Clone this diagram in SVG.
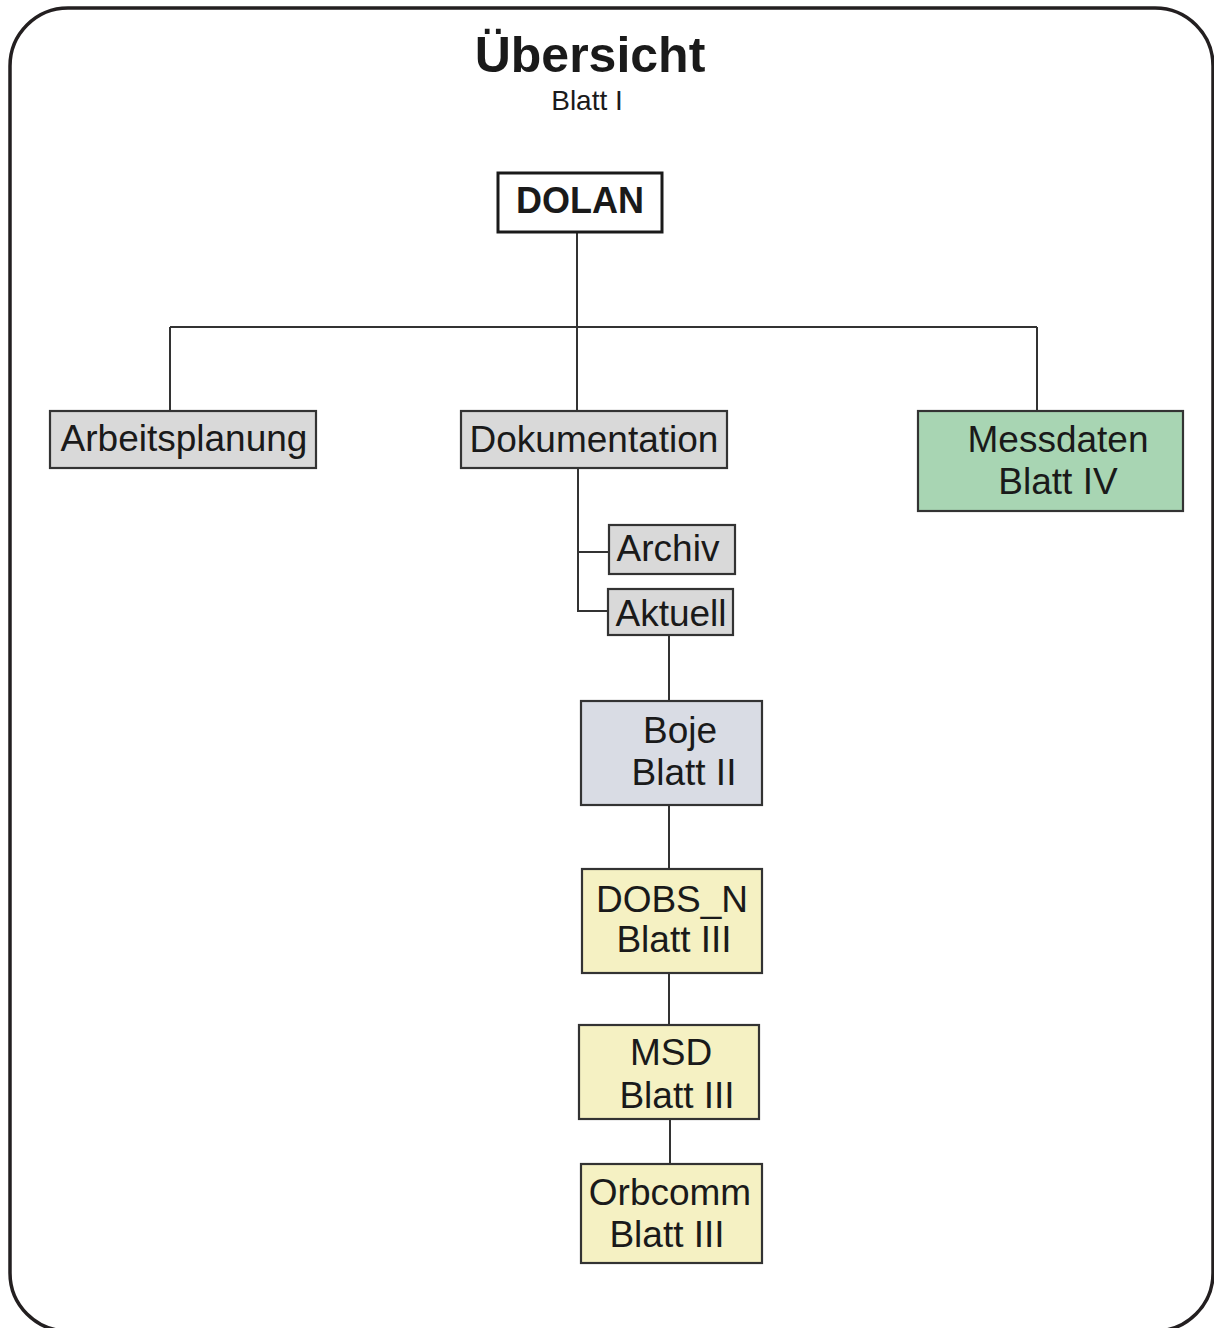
<svg xmlns="http://www.w3.org/2000/svg" width="1214" height="1328" viewBox="0 0 1214 1328">
<style>
text{font-family:"Liberation Sans",Arial,sans-serif;fill:#1a1a1a;text-anchor:middle}
.lbl{font-size:37px}
.box{stroke:#333;stroke-width:2.2}
.grey{fill:#d9d9d9}
.blue{fill:#d9dce4}
.yellow{fill:#f5f1c3}
.green{fill:#a8d5b3}
.conn{stroke:#333;stroke-width:2;fill:none}
</style>
<rect x="10" y="8" width="1203" height="1323" rx="58" ry="58" fill="#fff" stroke="#231f20" stroke-width="3.5"/>
<g id="title">
<text x="590" y="72" font-size="50" font-weight="bold">Übersicht</text>
<text x="587" y="110" font-size="28">Blatt I</text>
</g>
<g id="connectors">
<path class="conn" d="M577 233V410M170 327H1037M170 327V411M1037 327V411"/>
<path class="conn" d="M578 468V611H608M578 552H609"/>
<path class="conn" d="M669 635V701M669 805V869M669 973V1025M670 1119V1164"/>
</g>
<g id="dolan">
<rect x="498" y="173" width="164" height="59" fill="#fff" stroke="#1a1a1a" stroke-width="3"/>
<text x="580" y="213" font-size="36" font-weight="bold">DOLAN</text>
</g>
<g id="arbeitsplanung">
<rect class="box grey" x="50" y="411" width="266" height="57"/>
<text class="lbl" x="184" y="451">Arbeitsplanung</text>
</g>
<g id="dokumentation">
<rect class="box grey" x="461" y="411" width="266" height="57"/>
<text class="lbl" x="594" y="452">Dokumentation</text>
</g>
<g id="messdaten">
<rect class="box green" x="918" y="411" width="265" height="100"/>
<text class="lbl" x="1058" y="452">Messdaten</text>
<text class="lbl" x="1058" y="494">Blatt IV</text>
</g>
<g id="archiv">
<rect class="box grey" x="609" y="525" width="126" height="49"/>
<text class="lbl" x="668" y="561">Archiv</text>
</g>
<g id="aktuell">
<rect class="box grey" x="608" y="589" width="125" height="46"/>
<text class="lbl" x="671" y="626">Aktuell</text>
</g>
<g id="boje">
<rect class="box blue" x="581" y="701" width="181" height="104"/>
<text class="lbl" x="680" y="743">Boje</text>
<text class="lbl" x="684" y="785">Blatt II</text>
</g>
<g id="dobs_n">
<rect class="box yellow" x="582" y="869" width="180" height="104"/>
<text class="lbl" x="672" y="912">DOBS_N</text>
<text class="lbl" x="674" y="952">Blatt III</text>
</g>
<g id="msd">
<rect class="box yellow" x="579" y="1025" width="180" height="94"/>
<text class="lbl" x="671" y="1065">MSD</text>
<text class="lbl" x="677" y="1108">Blatt III</text>
</g>
<g id="orbcomm">
<rect class="box yellow" x="581" y="1164" width="181" height="99"/>
<text class="lbl" x="670" y="1205">Orbcomm</text>
<text class="lbl" x="667" y="1247">Blatt III</text>
</g>
</svg>
